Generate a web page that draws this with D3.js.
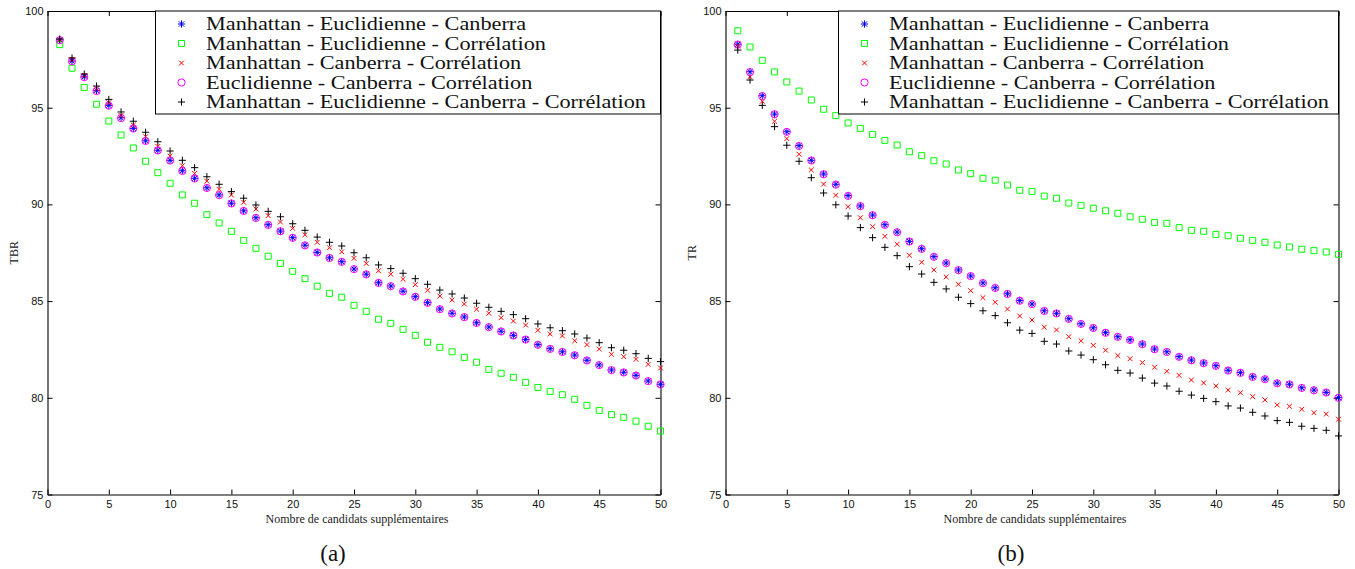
<!DOCTYPE html>
<html><head><meta charset="utf-8">
<script src="https://cdn.jsdelivr.net/npm/d3@7"></script>
<style>
html,body{margin:0;padding:0;background:#fff;}
svg{display:block;}
</style></head>
<body>
<svg id="chart" width="1355" height="569"></svg>
<script>
// ---------- DATA ----------
const candidates = [1,2,3,4,5,6,7,8,9,10,11,12,13,14,15,16,17,18,19,20,21,22,23,24,25,26,27,28,29,30,31,32,33,34,35,36,37,38,39,40,41,42,43,44,45,46,47,48,49,50];
const xTicks = [0,5,10,15,20,25,30,35,40,45,50];
const yTicks = [75,80,85,90,95,100];
const seriesNames = [
  "Manhattan - Euclidienne - Canberra",
  "Manhattan - Euclidienne - Corrélation",
  "Manhattan - Canberra - Corrélation",
  "Euclidienne - Canberra - Corrélation",
  "Manhattan - Euclidienne - Canberra - Corrélation"
];
const panelLabels = ["(a)", "(b)"];
const yLabels = ["TBR", "TR"];
const xLabel = "Nombre de candidats supplémentaires";

// (a) TBR
const tbrManEucCan = [98.50,97.41,96.60,95.88,95.12,94.48,93.93,93.29,92.80,92.28,91.74,91.35,90.86,90.49,90.06,89.67,89.31,88.95,88.62,88.28,87.89,87.52,87.24,87.04,86.66,86.39,85.95,85.78,85.51,85.23,84.92,84.59,84.37,84.18,83.88,83.66,83.44,83.23,83.02,82.75,82.54,82.38,82.21,81.94,81.70,81.44,81.32,81.16,80.87,80.70];
const tbrManEucCor = [98.26,97.04,96.05,95.18,94.31,93.59,92.92,92.23,91.64,91.09,90.49,90.06,89.47,89.04,88.61,88.14,87.73,87.32,86.95,86.54,86.16,85.77,85.40,85.20,84.78,84.47,84.06,83.85,83.54,83.23,82.87,82.61,82.38,82.09,81.84,81.47,81.27,81.06,80.80,80.53,80.33,80.16,79.92,79.61,79.35,79.13,78.99,78.79,78.53,78.28];
const tbrManCanCor = [98.52,97.50,96.67,95.98,95.26,94.60,94.10,93.50,93.00,92.50,92.00,91.60,91.20,90.78,90.49,90.11,89.76,89.42,89.09,88.76,88.43,88.04,87.76,87.55,87.21,86.95,86.57,86.39,86.13,85.85,85.56,85.26,85.06,84.85,84.58,84.37,84.14,83.97,83.76,83.49,83.30,83.20,82.95,82.75,82.52,82.25,82.13,81.99,81.73,81.54];
const tbrEucCanCor = [98.49,97.40,96.58,95.86,95.10,94.46,93.92,93.28,92.79,92.27,91.73,91.34,90.85,90.48,90.05,89.66,89.30,88.94,88.61,88.27,87.88,87.51,87.23,87.03,86.65,86.38,85.94,85.77,85.50,85.22,84.91,84.58,84.36,84.17,83.87,83.65,83.43,83.22,83.01,82.74,82.53,82.37,82.20,81.93,81.69,81.43,81.31,81.15,80.86,80.69];
const tbrAll = [98.55,97.57,96.74,96.12,95.43,94.78,94.30,93.73,93.24,92.76,92.28,91.90,91.43,91.04,90.66,90.32,89.97,89.64,89.36,89.00,88.66,88.31,88.04,87.85,87.50,87.24,86.87,86.68,86.44,86.16,85.87,85.57,85.37,85.16,84.89,84.68,84.47,84.30,84.09,83.82,83.62,83.47,83.30,83.09,82.85,82.59,82.46,82.28,82.04,81.87];

// (b) TR
const trManEucCan = [98.28,96.86,95.62,94.67,93.76,93.04,92.28,91.57,91.04,90.46,89.92,89.45,88.95,88.57,88.09,87.71,87.30,86.97,86.61,86.30,85.94,85.69,85.38,85.03,84.85,84.50,84.37,84.09,83.83,83.62,83.37,83.16,83.00,82.78,82.52,82.38,82.13,81.95,81.80,81.66,81.42,81.30,81.09,80.97,80.76,80.70,80.52,80.40,80.28,80.01];
const trManEucCor = [98.98,98.14,97.45,96.85,96.33,95.86,95.40,94.92,94.59,94.21,93.93,93.62,93.31,93.07,92.72,92.52,92.26,92.09,91.78,91.59,91.35,91.25,91.00,90.73,90.67,90.43,90.32,90.07,89.95,89.80,89.67,89.54,89.36,89.23,89.07,89.02,88.80,88.66,88.61,88.45,88.38,88.25,88.14,88.04,87.90,87.80,87.68,87.61,87.54,87.42];
const trManCanCor = [98.19,96.60,95.33,94.30,93.40,92.59,91.78,91.05,90.47,89.88,89.31,88.85,88.35,87.94,87.37,87.01,86.61,86.25,85.87,85.54,85.18,84.94,84.59,84.23,84.02,83.65,83.51,83.16,82.95,82.71,82.46,82.18,82.02,81.82,81.58,81.37,81.16,80.92,80.77,80.61,80.40,80.26,80.06,79.89,79.63,79.56,79.41,79.23,79.16,78.89];
const trEucCanCor = [98.26,96.84,95.60,94.66,93.75,93.02,92.27,91.56,91.02,90.44,89.91,89.44,88.94,88.56,88.08,87.70,87.29,86.96,86.60,86.29,85.93,85.68,85.37,85.02,84.84,84.49,84.36,84.08,83.82,83.61,83.36,83.15,82.99,82.77,82.51,82.37,82.12,81.94,81.79,81.65,81.41,81.29,81.08,80.96,80.75,80.69,80.51,80.39,80.27,80.00];
const trAll = [97.98,96.43,95.12,94.02,93.06,92.23,91.38,90.59,89.98,89.40,88.80,88.28,87.78,87.35,86.78,86.40,85.97,85.63,85.20,84.87,84.50,84.25,83.88,83.50,83.33,82.92,82.78,82.42,82.21,81.97,81.71,81.42,81.28,81.02,80.76,80.61,80.34,80.14,79.97,79.80,79.58,79.47,79.25,79.06,78.82,78.73,78.53,78.42,78.32,78.03];

// ---------- STYLE ----------
const markerTypes = ["star","square","x","circle","plus"];
const markerColors = ["#0000ff","#00ff00","#ff0000","#ff00ff","#000000"];
function markerPath(t){
  switch(t){
    case "star": return "M-3.6,0H3.6M0,-3.6V3.6M-2.6,-2.6L2.6,2.6M-2.6,2.6L2.6,-2.6";
    case "square": return "M-3,-3H3V3H-3Z";
    case "x": return "M-2.4,-2.4L2.4,2.4M-2.4,2.4L2.4,-2.4";
    case "circle": return "M3.6,0A3.6,3.6 0 1,1 -3.6,0A3.6,3.6 0 1,1 3.6,0Z";
    case "plus": return "M-3.6,0H3.6M0,-3.6V3.6";
  }
}

const svg = d3.select("#chart");
const serif = "'Liberation Serif','DejaVu Serif',serif";
const sans = "'Liberation Sans',Arial,sans-serif";

const panels = [
  {x0:47.5, x1:660.5, series:[tbrManEucCan,tbrManEucCor,tbrManCanCor,tbrEucCanCor,tbrAll], legendX:155.5, yl:yLabels[0], cap:panelLabels[0], ylx:14},
  {x0:725.5, x1:1338.5, series:[trManEucCan,trManEucCor,trManCanCor,trEucCanCor,trAll], legendX:838.5, yl:yLabels[1], cap:panelLabels[1], ylx:692}
];
const yTop = 11, yBot = 494.5;

panels.forEach(p => {
  const g = svg.append("g");
  const x = d3.scaleLinear().domain([0,50]).range([p.x0,p.x1]);
  const y = d3.scaleLinear().domain([75,100]).range([yBot,yTop]);

  const styleAxis = sel => {
    sel.select(".domain").attr("stroke","#000").attr("stroke-width",1.1);
    sel.selectAll(".tick line").attr("stroke","#000").attr("stroke-width",1);
    sel.selectAll("text").attr("font-family",sans).attr("font-size","11px").attr("fill","#111");
  };
  g.append("g").attr("transform",`translate(0,${yBot})`)
    .call(d3.axisBottom(x).tickValues(xTicks).tickSizeInner(-5).tickSizeOuter(0).tickPadding(6)).call(styleAxis);
  g.append("g").attr("transform",`translate(0,${yTop})`)
    .call(d3.axisTop(x).tickValues(xTicks).tickSizeInner(-5).tickSizeOuter(0).tickFormat("")).call(styleAxis);
  g.append("g").attr("transform",`translate(${p.x0},0)`)
    .call(d3.axisLeft(y).tickValues(yTicks).tickSizeInner(-5).tickSizeOuter(0).tickPadding(4)).call(styleAxis);
  g.append("g").attr("transform",`translate(${p.x1},0)`)
    .call(d3.axisRight(y).tickValues(yTicks).tickSizeInner(-5).tickSizeOuter(0).tickFormat("")).call(styleAxis);

  // series
  p.series.forEach((vals, si) => {
    g.append("g").selectAll("path").data(candidates.map((c,i)=>[c,vals[i]])).join("path")
      .attr("transform", d => `translate(${x(d[0])},${y(d[1])})`)
      .attr("d", markerPath(markerTypes[si]))
      .attr("fill","none").attr("stroke",markerColors[si]).attr("stroke-width",1);
  });

  // legend
  const lg = g.append("g");
  lg.append("rect").attr("x",p.legendX).attr("y",yTop).attr("width",p.x1-p.legendX).attr("height",103)
    .attr("fill","#fff").attr("stroke","#000").attr("stroke-width",1);
  const rowY = i => yTop + 13 + i*19.5;
  seriesNames.forEach((name,i) => {
    lg.append("path").attr("transform",`translate(${p.legendX+26},${rowY(i)})`)
      .attr("d", markerPath(markerTypes[i])).attr("fill","none").attr("stroke",markerColors[i]).attr("stroke-width",1);
    lg.append("text").attr("class","legtext").attr("x",p.legendX+50.5).attr("y",rowY(i)).attr("dy","0.35em")
      .attr("font-family",serif).attr("font-size","18px").attr("fill","#111").text(name);
  });
  // stretch legend text to match reference width
  const texts = lg.selectAll("text.legtext").nodes();
  const longest = texts[texts.length-1].getComputedTextLength();
  const factor = 440 / longest;
  texts.forEach(t => {
    const w = t.getComputedTextLength();
    d3.select(t).attr("textLength", w*factor).attr("lengthAdjust","spacingAndGlyphs");
  });

  // axis labels
  g.append("text").attr("transform",`translate(${p.ylx},${(yTop+yBot)/2}) rotate(-90)`)
    .attr("text-anchor","middle").attr("dy","0.35em").attr("font-family",serif).attr("font-size","12px").attr("fill","#222").text(p.yl);
  g.append("text").attr("x",(p.x0+p.x1)/2+3).attr("y",519).attr("text-anchor","middle").attr("dy","0.35em")
    .attr("font-family",serif).attr("font-size","12px").attr("fill","#222").text(xLabel);
  g.append("text").attr("x",(p.x0+p.x1)/2-21).attr("y",553).attr("text-anchor","middle").attr("dy","0.35em")
    .attr("font-family",serif).attr("font-size","23px").attr("fill","#111").text(p.cap);
});
</script>
</body></html>
